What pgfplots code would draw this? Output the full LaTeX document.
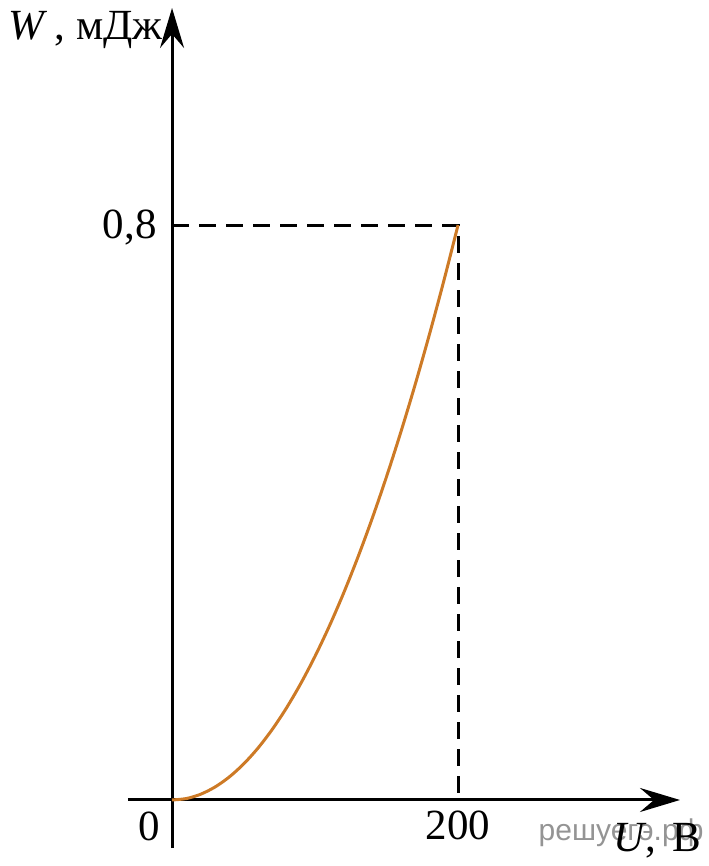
\documentclass[border=0pt]{standalone}
\usepackage{fontspec}
\setmainfont{Liberation Serif}
\newfontfamily\wmfont{Liberation Sans}
\usepackage{pgfplots}
\pgfplotsset{compat=1.18}
\usetikzlibrary{arrows.meta}
\definecolor{curve}{RGB}{205,122,38}
\begin{document}
\begin{tikzpicture}
\begin{axis}[
  scale only axis,
  width=276pt, height=420pt,
  axis lines=middle,
  xmin=-30.8, xmax=355.2,
  ymin=-0.0668, ymax=1.102,
  clip=false,
  axis line style={line width=1.5pt, -{Stealth[length=20pt,width=12pt,inset=7pt]}},
  xtick={200}, xticklabels={200},
  ytick={0.8}, yticklabels={0{,}8},
  major tick length=0pt,
  tick style={draw=none},
  xticklabel style={font=\fontsize{21.5}{26}\selectfont, anchor=north, inner sep=0pt, yshift=-5.5pt},
  yticklabel style={font=\fontsize{21.5}{26}\selectfont, anchor=east, inner sep=0pt, xshift=-7.5pt, yshift=-1pt},
]
\coordinate (O) at (rel axis cs:0,0);
\addplot[line width=1.5pt, dash pattern=on 8.5pt off 5pt] coordinates {(0,0.8) (200,0.8) (200,0)};
\addplot[curve, line width=1.5pt, smooth] coordinates {
(0,0) (10,0.002) (20,0.008) (30,0.018) (40,0.032) (50,0.05) (60,0.072) (70,0.098)
(80,0.128) (90,0.162) (100,0.2) (110,0.242) (120,0.288) (130,0.338) (140,0.392)
(150,0.45) (160,0.512) (170,0.578) (180,0.648) (190,0.722) (200,0.8)};
\node[anchor=north east, inner sep=0pt, font=\fontsize{21.5}{26}\selectfont] at (axis cs:-8.4,-0.0167) {0};
\node[anchor=center, inner sep=0pt, text=black!42, font=\wmfont\fontsize{15}{18}\selectfont] at (axis cs:314,-0.0459) {решуегэ.рф};
\node[anchor=base east, inner sep=0pt, font=\fontsize{21.5}{26}\selectfont] at (axis cs:370.6,-0.0710) {\textit{U}, \hspace{0.15em}В};
\node[anchor=base west, inner sep=0pt, font=\fontsize{21.5}{26}\selectfont] at (axis cs:-114.7,1.0588) {\textit{W}\,, мДж};
\end{axis}
\pgfresetboundingbox
\path[use as bounding box] ([shift={(-64pt,-9pt)}]O) rectangle ([shift={(290pt,424pt)}]O);
\end{tikzpicture}
\end{document}
